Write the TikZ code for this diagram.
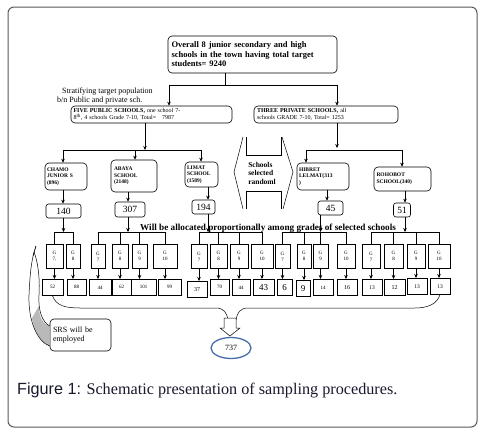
\documentclass[tikz,border=0pt]{standalone}
\usepackage{fontspec}
\setmainfont{Liberation Serif}
\newfontfamily\capsans{Liberation Sans}
\usetikzlibrary{arrows.meta,shapes.geometric}
\definecolor{capcol}{RGB}{25,25,45}
\definecolor{ellcol}{RGB}{70,110,170}
\tikzset{
  arr/.style={-{Stealth[length=4pt,width=3.5pt]}},
  thickln/.style={line width=0.9pt},
  thinln/.style={line width=0.5pt},
  rbox/.style={draw, rounded corners=4pt, line width=0.6pt, inner sep=1pt},
  schoolbox/.style={rbox, font=\fontsize{5.5}{6.5}\selectfont\bfseries, align=left},
  numbox/.style={rbox, rounded corners=2.5pt, font=\fontsize{9.5}{10}\selectfont},
  gradebox/.style={draw, line width=0.7pt, inner sep=0pt, minimum height=24pt, font=\fontsize{5}{6}\selectfont, align=center, anchor=north},
  valbox/.style={draw, line width=0.7pt, inner sep=0pt, minimum height=16pt, font=\fontsize{5}{6}\selectfont, anchor=north},
}
\begin{document}
\begin{tikzpicture}[x=1pt,y=-1pt]
\useasboundingbox (0,0) rectangle (487,431);
\fill[white] (0,0) rectangle (487,431);
\draw[rounded corners=6pt, gray!70!black, line width=1pt] (8,7) rectangle (477,427);

% top
\node[rbox, minimum width=169pt, minimum height=37pt, text width=162pt, align=left,
  font=\fontsize{8.5}{9.5}\selectfont\bfseries] (top) at (252.5,54.5)
  {Overall 8 junior secondary and high\\schools in the town having total target\\students= 9240};
\node[anchor=north west, inner sep=0pt, align=left, font=\fontsize{8}{8.5}\selectfont] (strat) at (57,88)
  {\hspace{5pt}Stratifying target population\\b/n Public and private sch.};

\node[rbox, minimum width=161pt, minimum height=17pt, text width=156pt, align=left,
  font=\fontsize{6}{7}\selectfont] (pub) at (151.5,114.5)
  {\textbf{FIVE PUBLIC SCHOOLS,} one school 7-\\8\textsuperscript{th}, 4 schools Grade 7-10, Total=\ \ \ 7987};
\node[rbox, minimum width=144pt, minimum height=17pt, text width=138pt, align=left,
  font=\fontsize{6}{7}\selectfont] (priv) at (326,114.5)
  {\textbf{THREE PRIVATE SCHOOLS,} all\\schools GRADE 7-10, Total= 1253};

\coordinate (j1) at (225,85);
\coordinate (l1) at (169,85);
\coordinate (r1) at (337,85);
\draw[thickln] (top.south -| j1) -- (j1);
\draw[thickln] (l1) -- (r1);
\draw[thickln,arr] (l1) -- (pub.north -| l1);
\draw[thickln,arr] (r1) -- (priv.north -| r1);

% schools
\node[schoolbox, minimum width=42pt, minimum height=27pt, text width=38pt] (chamo) at (66,176.5) {CHAMO\\JUNIOR S\\(896)};
\node[schoolbox, minimum width=46pt, minimum height=32pt, text width=40pt] (abaya) at (134,176) {ABAYA\\SCHOOL\\(2148)};
\node[schoolbox, minimum width=33pt, minimum height=25pt, text width=29pt] (limat) at (201.5,174.5) {LIMAT\\SCHOOL\\(1589)};
\node[schoolbox, minimum width=52pt, minimum height=27pt, text width=48pt] (hib) at (323,176.5) {HIBRET\\LELMAT(313\\)};
\node[schoolbox, minimum width=57pt, minimum height=24pt, text width=52pt] (roh) at (402.5,179) {ROHOBOT\\SCHOOL(340)};

\coordinate (pubj) at (145,150);
\coordinate (pl) at (63,150);
\coordinate (pm) at (135,150);
\coordinate (pr) at (201,150);
\draw[thickln,arr] (pub.south -| pubj) -- (pubj);
\draw[thickln] (pl) -- (pr);
\draw[thickln,arr] (pl) -- (chamo.north -| pl);
\draw[thickln,arr] (pm) -- (abaya.north -| pm);
\draw[thickln,arr] (pr) -- (limat.north -| pr);

\coordinate (privj) at (337,148);
\coordinate (ql) at (306,150);
\coordinate (qr) at (402,150);
\draw[thickln,arr] (priv.south -| privj) -- (privj);
\draw[thinln] (ql) -- (qr);
\draw[thinln,arr] (ql) -- (hib.north -| ql);
\draw[thinln,arr] (qr) -- (roh.north -| qr);

% random selection shape
\draw[line width=0.5pt] (243,137) -- (234,172) -- (243,209);
\draw[line width=0.5pt] (282,137) -- (293,172) -- (283,209);
\draw[line width=0.5pt] (246,137) -- (246,155) -- (281,155) -- (281,137);
\draw[line width=0.5pt] (246,209) -- (246,191) -- (281,191) -- (281,209);
\node[align=left, inner sep=0pt, font=\fontsize{7.5}{8.5}\selectfont\bfseries] (rand) at (262,173) {Schools\\selected\\randoml};

% sample sizes
\node[numbox, minimum width=35pt, minimum height=14pt] (n140) at (63.5,211) {140};
\node[numbox, minimum width=30pt, minimum height=15pt] (n307) at (130,209.5) {307};
\node[numbox, minimum width=23pt, minimum height=14pt] (n194) at (203.5,207) {194};
\node[numbox, minimum width=25pt, minimum height=14pt] (n45) at (330.5,208) {45};
\node[numbox, minimum width=17pt, minimum height=14pt] (n51) at (402,210) {51};

\coordinate (c1) at (63,0);
\coordinate (c2) at (128,0);
\coordinate (c3) at (208,0);
\coordinate (c4) at (327,0);
\coordinate (c5) at (405,0);
\draw[thickln,arr] (chamo.south -| c1) -- (n140.north -| c1);
\draw[thickln,arr] (abaya.south -| c2) -- (n307.north -| c2);
\draw[thickln,arr] (limat.south -| c3) -- (n194.north -| c3);
\draw[thickln,arr] (hib.south -| c4) -- (n45.north -| c4);
\draw[thickln,arr] (roh.south -| c5) -- (n51.north -| c5);

\node[anchor=base west, inner sep=0pt, font=\fontsize{9.2}{9.5}\selectfont\bfseries] (alloc) at (140,230)
  {Will be allocated proportionally among grades of selected schools};

% grade boxes
\foreach \nm/\cx/\w/\g in {
  a7/54.5/17/{7,}, a8/73/14/8,
  b7/98/14/7, b8/120/16/8, b9/139.5/15/9, b10/165/24/10,
  c7/199/16/7, c8/218.5/17/8, c9/239/18/9, c10/262/22/10,
  d7/282.5/15/7, d8/304/14/8, d9/320.5/15/9, d10/346/18/10,
  e7/371/18/7, e8/393.5/19/8, e9/416/18/9, e10/439/22/10}
  { \node[gradebox, minimum width=\w pt] (g\nm) at (\cx,244) {G\\\g}; }

\coordinate (bar) at (0,232);
\draw[thinln] (ga7.north) -- (ga7.north |- bar) -- (ga8.north |- bar) -- (ga8.north);
\draw[thinln] (gb7.north) -- (gb7.north |- bar) -- (gb10.north |- bar) -- (gb10.north);
\draw[thinln] (gb8.north) -- (gb8.north |- bar);
\draw[thinln] (gb9.north) -- (gb9.north |- bar);
\draw[thinln] (gc7.north) -- (gc7.north |- bar) -- (gc10.north |- bar) -- (gc10.north);
\draw[thinln] (gc8.north) -- (gc8.north |- bar);
\draw[thinln] (gc9.north) -- (gc9.north |- bar);
\draw[thinln] (gd7.north) -- (gd7.north |- bar) -- (gd10.north |- bar) -- (gd10.north);
\draw[thinln] (gd8.north) -- (gd8.north |- bar);
\draw[thinln] (gd9.north) -- (gd9.north |- bar);
\draw[thinln] (ge7.north) -- (ge7.north |- bar) -- (ge10.north |- bar) -- (ge10.north);
\draw[thinln] (ge8.north) -- (ge8.north |- bar);
\draw[thinln] (ge9.north) -- (ge9.north |- bar);

\draw[thinln,arr] (n140.south) -- (n140.south |- bar);
\draw[thinln,arr] (n307.south -| c2) -- (bar -| c2);
\draw[thinln,arr] (n194.south -| c3) -- (bar -| c3);
\draw[thinln,arr] (n45.south -| gd9.north) -- (gd9.north |- bar);
\draw[thinln,arr] (n51.south -| c5) -- (bar -| c5);

% value boxes
\foreach \nm/\cx/\w/\v/\fs/\yy in {
  a7/52.5/21/52/5/279, a8/76.5/19/88/5/279,
  b7/100/22/44/5/279, b8/121.5/19/62/5/279, b9/143.5/25/101/5/279, b10/169.5/23/99/5/279,
  c7/197/20/37/6/281, c8/219.5/19/70/5/279, c9/241/18/44/5/279, c10/263.5/21/43/9/279,
  d7/284.5/15/6/9/279, d8/303/14/9/9/280, d9/323/20/14/5/279, d10/347/20/16/6/279,
  e7/372/20/13/5.5/279, e8/394.5/21/12/6/279, e9/417/20/13/5.5/278, e10/440/20/13/5.5/278}
  { \node[valbox, minimum width=\w pt, font=\fontsize{\fs}{\fs}\selectfont] (v\nm) at (\cx,\yy) {\v}; }

\foreach \nm in {a7,a8,b7,b8,b9,b10,c7,c8,c9,c10,d7,d8,d9,d10,e7,e8,e9,e10}
  { \draw[thinln,arr] (g\nm.south) -- (g\nm.south |- v\nm.north); }

% brace to total
\coordinate (bl) at (228,320);
\coordinate (br) at (236,320);
\draw[line width=0.5pt] (va7.south) .. controls (56,306) and (66,308) .. (80,308) -- (216,308) .. controls (224,308) and (227,313) .. (bl);
\draw[line width=0.5pt] (ve10.south) .. controls (437,304) and (428,308) .. (415,308) -- (248,308) .. controls (240,308) and (237,313) .. (br);
\draw[line width=0.5pt, fill=white] (224,318) -- (236,318) -- (236,328) -- (240,328) -- (230,336) -- (220,328) -- (224,328) -- cycle;
\node[draw=ellcol, line width=1.3pt, ellipse, minimum width=40pt, minimum height=21pt, inner sep=0pt, font=\fontsize{8}{8}\selectfont] (tot) at (231,348) {737};

% SRS callout
\node[rbox, minimum width=61pt, minimum height=32pt, text width=55pt, align=left, font=\fontsize{8}{9.5}\selectfont] (srs) at (80.5,335) {SRS will be\\employed};
\coordinate (s1) at (0,346);
\coordinate (s2) at (0,326);
\fill[gray!55] (srs.west |- s1) .. controls (42,343) and (34,332) .. (32,318) -- (39,306) .. controls (39,318) and (43,324) .. (srs.west |- s2) -- cycle;
\draw[line width=0.5pt] (srs.west |- s1) .. controls (38,342) and (28,322) .. (29,295) .. controls (30,275) and (31,260) .. (36,246);
\draw[line width=0.5pt] (srs.west |- s2) .. controls (42,322) and (38,310) .. (39,295) .. controls (40,278) and (38,262) .. (34,252);
\draw[line width=0.4pt] (36,246) -- (33,256);

% caption
\node[anchor=base west, inner sep=0pt, text=capcol, font=\fontsize{16.2}{17}\selectfont] (cap) at (17,394)
  {{\capsans Figure 1:} Schematic presentation of sampling procedures.};
\end{tikzpicture}
\end{document}
